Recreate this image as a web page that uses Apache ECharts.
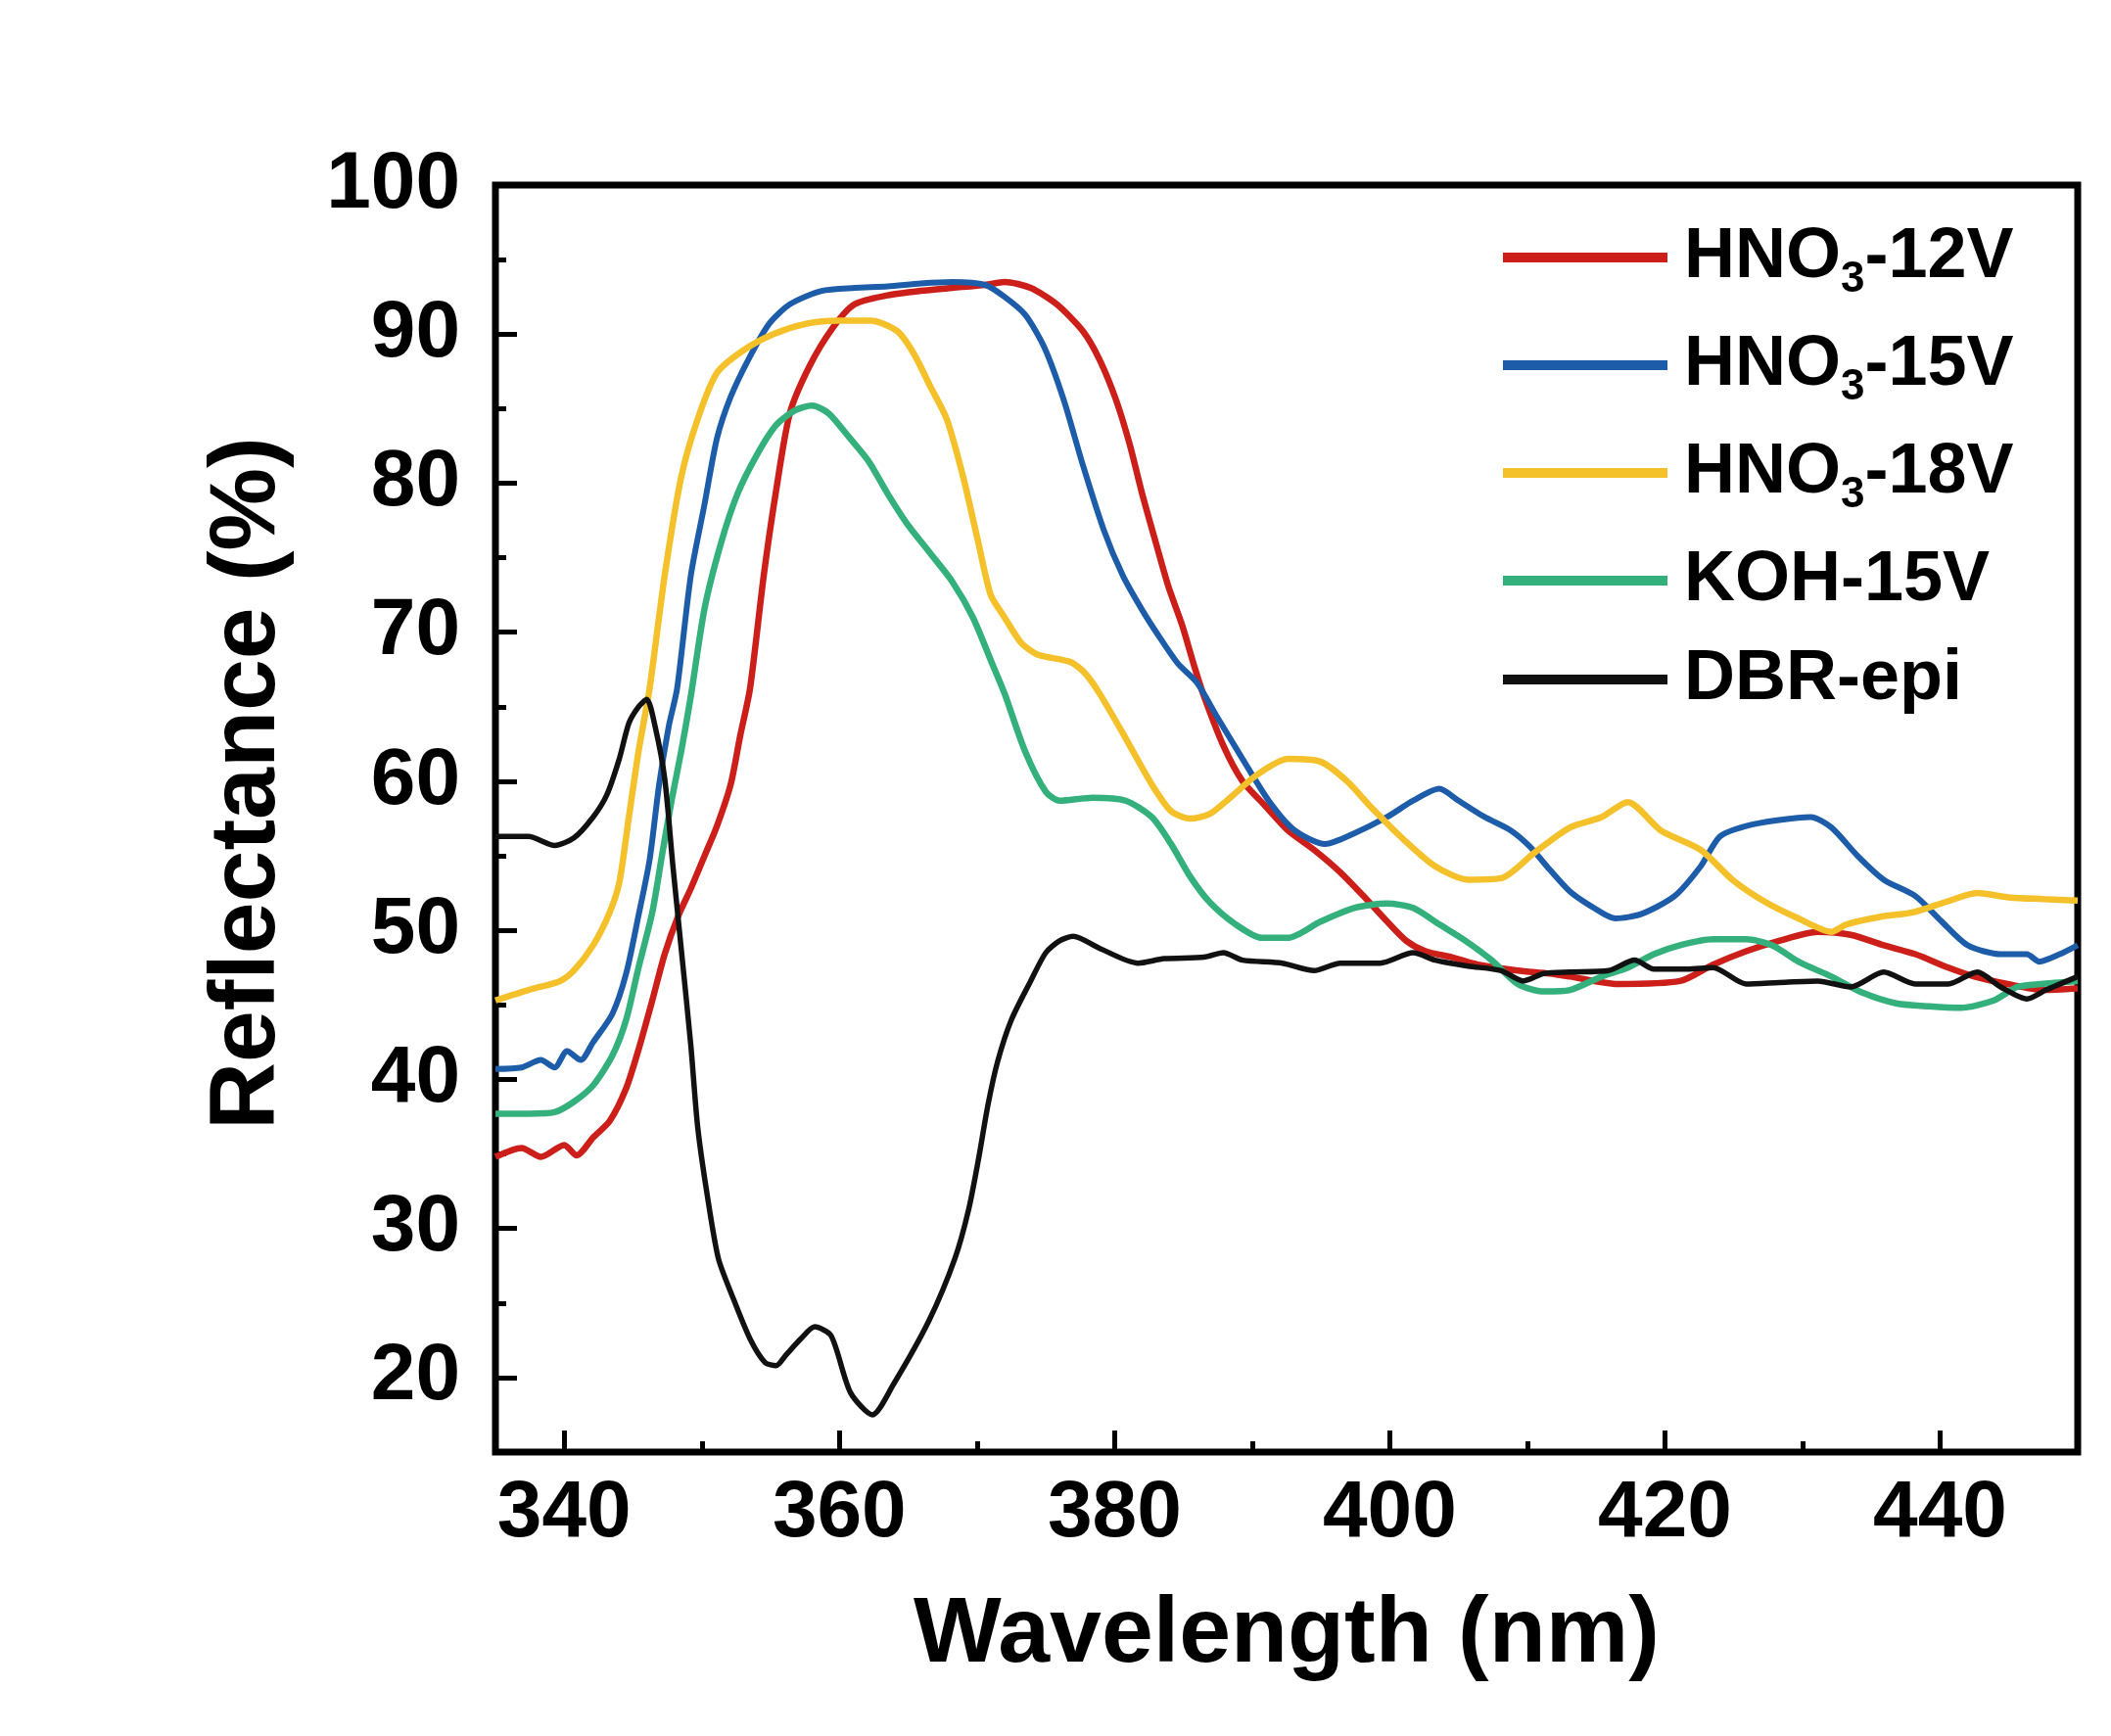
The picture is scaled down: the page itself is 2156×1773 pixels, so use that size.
<!DOCTYPE html>
<html>
<head>
<meta charset="utf-8">
<title>Reflectance spectra</title>
<script src="https://cdn.jsdelivr.net/npm/echarts@6/dist/echarts.min.js"></script>
<style>
html, body { margin: 0; padding: 0; background: #fff; }
#chart { width: 2156px; height: 1773px; }
</style>
</head>
<body>
<div id="chart"></div>
<script>
// [wavelength (nm), reflectance (%)]
var hno3_12V = [[335,34.8],[336.9,35.4],[338.3,34.8],[340,35.6],[340.9,34.9],[342.1,36.1],[343.3,37.2],[344.5,39.4],[345.4,42.0],[346.4,45.3],[347.3,48.4],[348.3,51.0],[349.2,52.8],[350.2,55.0],[351.1,57.0],[352.1,59.8],[352.8,63.1],[353.5,66.2],[354.5,73.8],[355.4,79.5],[356.4,84.7],[357.8,87.8],[359.5,90.4],[361.1,92.0],[363.5,92.6],[365.9,92.9],[368.2,93.1],[370.6,93.3],[372.0,93.5],[373.9,93.1],[375.8,92.0],[377.7,90.2],[378.9,88.3],[380.1,85.6],[381.1,82.6],[382.0,79.3],[383.0,76.0],[383.9,73.1],[384.9,70.5],[385.8,67.7],[386.5,65.7],[387.9,62.4],[389.3,60.0],[390.8,58.5],[392.6,56.7],[394.5,55.4],[396.4,53.9],[398.3,52.1],[399.8,50.6],[401.2,49.3],[402.6,48.6],[404.5,48.2],[406.4,47.7],[409.3,47.3],[411.6,47.1],[413.1,46.9],[416.6,46.4],[421.1,46.6],[423.5,47.7],[425.9,48.6],[428.3,49.3],[431.1,49.9],[433.5,49.7],[435.9,49.0],[438.2,48.4],[440.6,47.5],[442.5,46.9],[444.9,46.4],[447.5,46.0],[450,46.1]];
var hno3_15V = [[335,40.7],[336.9,40.8],[338.3,41.3],[339.3,40.8],[340.2,41.9],[341.2,41.3],[342.1,42.5],[343.5,44.4],[344.5,47.1],[345.4,51.0],[346.2,54.7],[346.9,59.8],[347.6,63.7],[348.2,66.2],[349.2,73.8],[350.2,78.6],[351.1,83.0],[352.1,85.8],[353.5,88.5],[354.9,90.7],[356.4,92.0],[358.7,92.9],[361.1,93.1],[363.5,93.2],[365.9,93.4],[368.2,93.5],[370.6,93.3],[372.0,92.5],[373.5,91.3],[374.9,89.1],[376.3,85.6],[377.7,81.2],[379.2,76.9],[380.6,73.8],[382.0,71.5],[383.1,69.9],[384.6,67.9],[386.0,66.6],[387.4,64.4],[389.3,61.5],[391.2,58.7],[393.1,56.7],[395.3,55.8],[397.4,56.5],[399.8,57.6],[401.7,58.7],[403.6,59.5],[405.0,58.7],[406.9,57.6],[408.8,56.7],[410.2,55.6],[411.6,54.1],[413.1,52.6],[414.5,51.7],[416.4,50.8],[418.3,51.1],[420.7,52.3],[422.6,54.3],[424.0,56.3],[425.9,57.0],[428.3,57.4],[430.6,57.6],[432.1,56.9],[434.0,55.0],[435.9,53.4],[438.2,52.3],[440.1,50.6],[442.0,49.0],[444.4,48.4],[446.3,48.4],[447.2,47.9],[448.7,48.4],[450,49.0]];
var hno3_18V = [[335,45.3],[337.4,46.0],[339.7,46.6],[340.7,47.3],[342.1,49.0],[343.3,51.2],[344.0,53.2],[344.7,57.6],[345.4,62.0],[346.2,66.2],[347.3,73.8],[348.5,80.4],[349.7,84.3],[351.1,87.4],[353.0,88.9],[355.2,90.0],[357.6,90.7],[359.9,90.9],[362.3,90.9],[364.2,90.2],[365.4,88.7],[366.6,86.5],[367.8,84.3],[369.0,80.4],[370.1,76.0],[371.0,72.5],[372.0,71.0],[373.2,69.3],[374.4,68.5],[376.8,68.0],[377.8,67.3],[378.9,65.9],[380.8,62.9],[382.7,59.8],[384.1,58.0],[385.5,57.5],[386.9,57.8],[388.4,58.9],[390.3,60.4],[392.6,61.5],[395.0,61.3],[396.9,60.0],[398.6,58.3],[401.0,56.1],[403.3,54.3],[405.7,53.4],[408.1,53.5],[410.5,55.2],[413.1,56.9],[415.4,57.6],[417.3,58.6],[419.7,56.7],[422.6,55.4],[424.9,53.4],[427.3,51.9],[429.7,50.8],[432.1,49.9],[433.2,50.4],[435.6,50.9],[438.0,51.2],[440.4,51.9],[442.7,52.5],[445.1,52.2],[447.5,52.1],[450,52.0]];
var koh_15V = [[335,37.7],[337.4,37.7],[339.3,37.8],[340.7,38.5],[342.1,39.6],[343.5,41.6],[344.5,44.0],[345.4,47.5],[346.4,51.2],[347.1,55.0],[347.8,58.7],[348.5,62.0],[349.2,65.7],[350.2,71.6],[351.4,76.0],[352.6,79.3],[354.0,81.9],[355.4,83.9],[356.8,84.9],[358.0,85.2],[359.2,84.7],[360.6,83.2],[362.1,81.5],[363.5,79.3],[364.9,77.3],[366.6,75.3],[368.2,73.4],[369.7,71.0],[371.1,67.9],[372.0,65.9],[373.5,62.0],[375.0,59.3],[376.0,58.7],[378.4,58.9],[380.8,58.7],[382.7,57.6],[384.1,55.8],[385.5,53.6],[386.9,51.9],[388.8,50.4],[390.7,49.5],[392.6,49.5],[395.0,50.6],[397.4,51.5],[399.8,51.8],[401.7,51.5],[403.6,50.4],[405.5,49.3],[407.4,48.0],[409.3,46.4],[411.2,45.9],[413.1,46.0],[415.4,46.9],[417.3,47.5],[419.2,48.4],[421.1,49.0],[423.5,49.4],[425.9,49.4],[427.8,49.0],[429.7,47.9],[432.1,46.9],[434.4,45.8],[436.8,45.1],[439.2,44.9],[441.5,44.8],[443.9,45.3],[445.6,46.2],[447.3,46.4],[450,46.6]];
var dbr_epi = [[335,56.3],[337.4,56.3],[339.3,55.7],[340.7,56.2],[342.1,57.6],[343.1,59.1],[344.0,61.5],[344.7,63.9],[345.4,65.0],[346.0,65.5],[346.6,63.7],[347.3,60.2],[347.9,54.3],[348.5,48.8],[349.2,42.3],[349.7,36.8],[350.4,32.2],[351.2,28.0],[352.2,25.5],[353.5,22.6],[354.6,21.0],[355.4,20.8],[356.1,21.5],[357.2,22.6],[358.2,23.4],[359.4,22.8],[360.8,19.0],[362.4,17.5],[363.9,19.5],[366.5,23.8],[368.4,28.0],[369.4,31.3],[370.1,34.6],[370.8,38.3],[371.5,41.2],[372.5,44.0],[373.9,46.6],[375.0,48.5],[376.0,49.3],[377.0,49.6],[378.9,48.8],[381.7,47.8],[383.6,48.1],[386.5,48.2],[387.9,48.5],[389.3,48.0],[392.2,47.8],[394.5,47.3],[396.4,47.8],[399.3,47.8],[401.7,48.5],[403.3,48.0],[405.7,47.6],[408.1,47.3],[409.7,46.6],[411.2,47.1],[413.1,47.2],[415.9,47.3],[417.8,48.0],[419.2,47.4],[421.6,47.4],[423.5,47.5],[425.9,46.4],[428.3,46.5],[431.1,46.6],[433.5,46.2],[435.9,47.2],[438.2,46.4],[440.6,46.4],[442.7,47.2],[444.4,46.2],[446.3,45.4],[447.7,46.0],[450,46.9]];

var seriesNames = ['HNO3-12V', 'HNO3-15V', 'HNO3-18V', 'KOH-15V', 'DBR-epi'];
var seriesColors = ['#cc1f1a', '#1d5ca8', '#f5c12b', '#34b07c', '#111111'];
var seriesWidths = [6.5, 6, 6.5, 6.5, 5.5];
var seriesData = [hno3_12V, hno3_15V, hno3_18V, koh_15V, dbr_epi];

var xMajorTicks = [340, 360, 380, 400, 420, 440];
var xMinorTicks = [350, 370, 390, 410, 430];
var yMajorTicks = [20, 30, 40, 50, 60, 70, 80, 90, 100];
var yMinorTicks = [25, 35, 45, 55, 65, 75, 85, 95];

var font = 'Arial, "Liberation Sans", Helvetica, sans-serif';
var chart = echarts.init(document.getElementById('chart'));

var series = [];
for (var i = 0; i < seriesNames.length; i++) {
    series.push({
        name: seriesNames[i],
        type: 'line',
        data: seriesData[i],
        showSymbol: false,
        symbol: 'none',
        smooth: 0.25,
        color: seriesColors[i],
        lineStyle: { width: seriesWidths[i], color: seriesColors[i] }
    });
}

function tickAxis(ticks, len, major) {
    return {
        type: 'value',
        min: 0, max: 0,
        axisLine: { show: false },
        splitLine: { show: false },
        axisTick: { show: true, inside: true, length: len, customValues: ticks,
            lineStyle: { width: 5, color: '#000' } },
        axisLabel: major ? {
            customValues: ticks, fontSize: 82, fontWeight: 'bold',
            color: '#000', fontFamily: font
        } : { show: false }
    };
}

var xMain = tickAxis(xMajorTicks, 22, true);
xMain.min = 335; xMain.max = 450; xMain.position = 'bottom';
xMain.axisLabel.margin = 22;
xMain.name = 'Wavelength (nm)';
xMain.nameLocation = 'middle';
xMain.nameGap = 140;
xMain.nameTextStyle = { fontSize: 95, fontWeight: 'bold', color: '#000', fontFamily: font };
var xMinor = tickAxis(xMinorTicks, 11, false);
xMinor.min = 335; xMinor.max = 450; xMinor.position = 'bottom';

var yMain = tickAxis(yMajorTicks, 22, true);
yMain.min = 15; yMain.max = 100; yMain.position = 'left';
yMain.axisLabel.margin = 36;
yMain.name = 'Reflectance (%)';
yMain.nameLocation = 'middle';
yMain.nameGap = 205;
yMain.nameTextStyle = { fontSize: 95, fontWeight: 'bold', color: '#000', fontFamily: font,
    padding: [0, 0, 0, 72] };
var yMinor = tickAxis(yMinorTicks, 11, false);
yMinor.min = 15; yMinor.max = 100; yMinor.position = 'left';

var option = {
    backgroundColor: '#fff',
    animation: false,
    grid: {
        left: 506, right: 34, top: 189, bottom: 290,
        show: true, borderColor: '#000', borderWidth: 7,
        backgroundColor: 'transparent'
    },
    legend: {
        orient: 'vertical',
        left: 1530, top: 222,
        icon: 'rect',
        itemWidth: 168, itemHeight: 10,
        itemGap: 29,
        data: seriesNames,
        formatter: function (name) {
            if (name.indexOf('HNO3') === 0) {
                return '{a|HNO}{s|3}{a|' + name.slice(4) + '}';
            }
            return '{a|' + name + '}';
        },
        textStyle: {
            padding: [0, 0, 0, 12],
            rich: {
                a: { fontSize: 72, fontWeight: 'bold', color: '#000', lineHeight: 90, fontFamily: font },
                s: { fontSize: 44, fontWeight: 'bold', color: '#000', lineHeight: 30,
                     verticalAlign: 'bottom', fontFamily: font }
            }
        }
    },
    xAxis: [xMain, xMinor],
    yAxis: [yMain, yMinor],
    series: series
};
chart.setOption(option);
</script>
</body>
</html>
